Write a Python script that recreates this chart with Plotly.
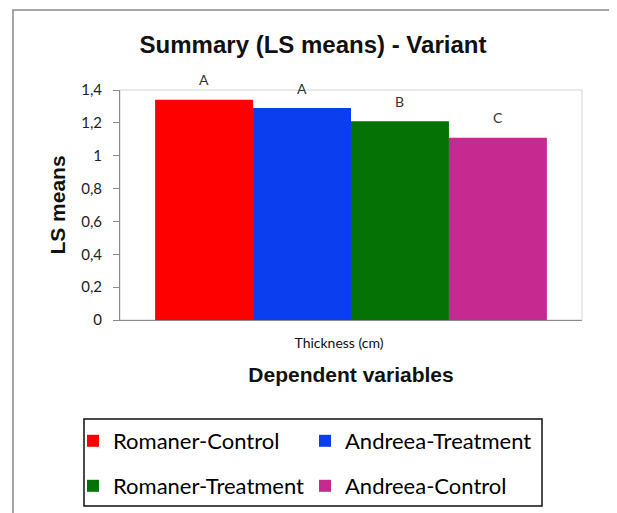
import plotly.graph_objects as go

# ---- data ----
categories = ["Thickness (cm)"]
series_names = ["Romaner-Control", "Andreea-Treatment", "Romaner-Treatment", "Andreea-Control"]
series_values = [1.34, 1.29, 1.21, 1.11]
series_letters = ["A", "A", "B", "C"]
series_colors = ["#FE0000", "#0A3FF0", "#047204", "#C6298F"]
series_legends = ["legend", "legend", "legend2", "legend2"]
y_tick_values = [0, 0.2, 0.4, 0.6, 0.8, 1.0, 1.2, 1.4]

W, H = 617, 513
OFF = 8  # page body margin offset in the screenshot
# plot area in screenshot pixels
PX0, PX1, PY0, PY1 = 120, 582, 90, 320
L, T = PX0 - OFF, PY0 - OFF
R, B = W - (PX1 - OFF), H - (PY1 - OFF)
PW, PH = PX1 - PX0, PY1 - PY0
BARGAP = 0.152


def px_x(p):
    return (p - PX0) / PW


def px_y(p):
    return (PY1 - p) / PH


fig = go.Figure()
for name, val, color, lg in zip(series_names, series_values, series_colors, series_legends):
    fig.add_trace(go.Bar(
        x=categories, y=[val], name=name, legend=lg,
        marker=dict(color=color, line=dict(width=0)),
    ))

# significance letters above each bar of the group
n = len(series_values)
bar_w = PW * (1 - BARGAP) / n
annotations = []
for i, (val, letter) in enumerate(zip(series_values, series_letters)):
    annotations.append(dict(
        x=categories[0], y=val, xref="x", yref="y", text=letter, showarrow=False,
        xshift=(i - (n - 1) / 2) * bar_w, yshift=20, yanchor="middle",
        font=dict(family="Lato", size=14, color="#333333"),
    ))

legend_common = dict(
    orientation="h", xanchor="left", yanchor="middle",
    font=dict(family="Lato", size=22, color="#000000"),
    bgcolor="rgba(0,0,0,0)", borderwidth=0,
    entrywidth=187, entrywidthmode="pixels",
)

fig.update_layout(
    width=W, height=H,
    margin=dict(l=L, r=R, t=T, b=B),
    paper_bgcolor="white", plot_bgcolor="white",
    separators=",.",
    barmode="group", bargap=BARGAP, bargroupgap=0,
    showlegend=True,
    annotations=annotations,
    title=dict(text="<b>Summary (LS means) - Variant</b>", x=(313 - OFF) / W, xanchor="center",
               y=1 - (45 - OFF) / H, yanchor="middle",
               font=dict(family="Liberation Sans", size=24, color="#111111")),
    legend=dict(x=px_x(73), y=px_y(441), **legend_common),
    legend2=dict(x=px_x(73), y=px_y(486), **legend_common),
    xaxis=dict(
        showline=True, linecolor="#8c8c8c", linewidth=1, ticks="",
        ticklabelstandoff=10, ticklabelshift=-12,
        tickfont=dict(family="Lato", size=14, color="#111111"),
        title=dict(text="<b>Dependent variables</b>", standoff=17,
                   font=dict(family="Liberation Sans", size=21, color="#111111")),
        showgrid=False, zeroline=False,
    ),
    yaxis=dict(
        range=[0, 1.4], tickvals=y_tick_values,
        showline=True, linecolor="#8c8c8c", linewidth=1,
        ticks="outside", ticklen=6, tickcolor="#8c8c8c",
        ticklabelstandoff=8,
        tickfont=dict(family="Lato", size=15, color="#222222"),
        title=dict(text="<b>LS means</b>", standoff=9,
                   font=dict(family="Liberation Sans", size=21, color="#111111")),
        showgrid=False, zeroline=False,
    ),
    shapes=[
        dict(type="rect", xref="paper", yref="paper", x0=0, x1=1, y0=0, y1=1,
             line=dict(color="#d4d4d4", width=1), layer="below"),
        dict(type="rect", xref="paper", yref="paper",
             x0=px_x(13), x1=px_x(610), y0=px_y(10), y1=px_y(530),
             line=dict(color="#8a8a8a", width=1.5)),
        dict(type="rect", xref="paper", yref="paper",
             x0=px_x(84), x1=px_x(542), y0=px_y(419), y1=px_y(506),
             line=dict(color="#111111", width=1.5)),
    ],
)

fig.write_html("out.html")
